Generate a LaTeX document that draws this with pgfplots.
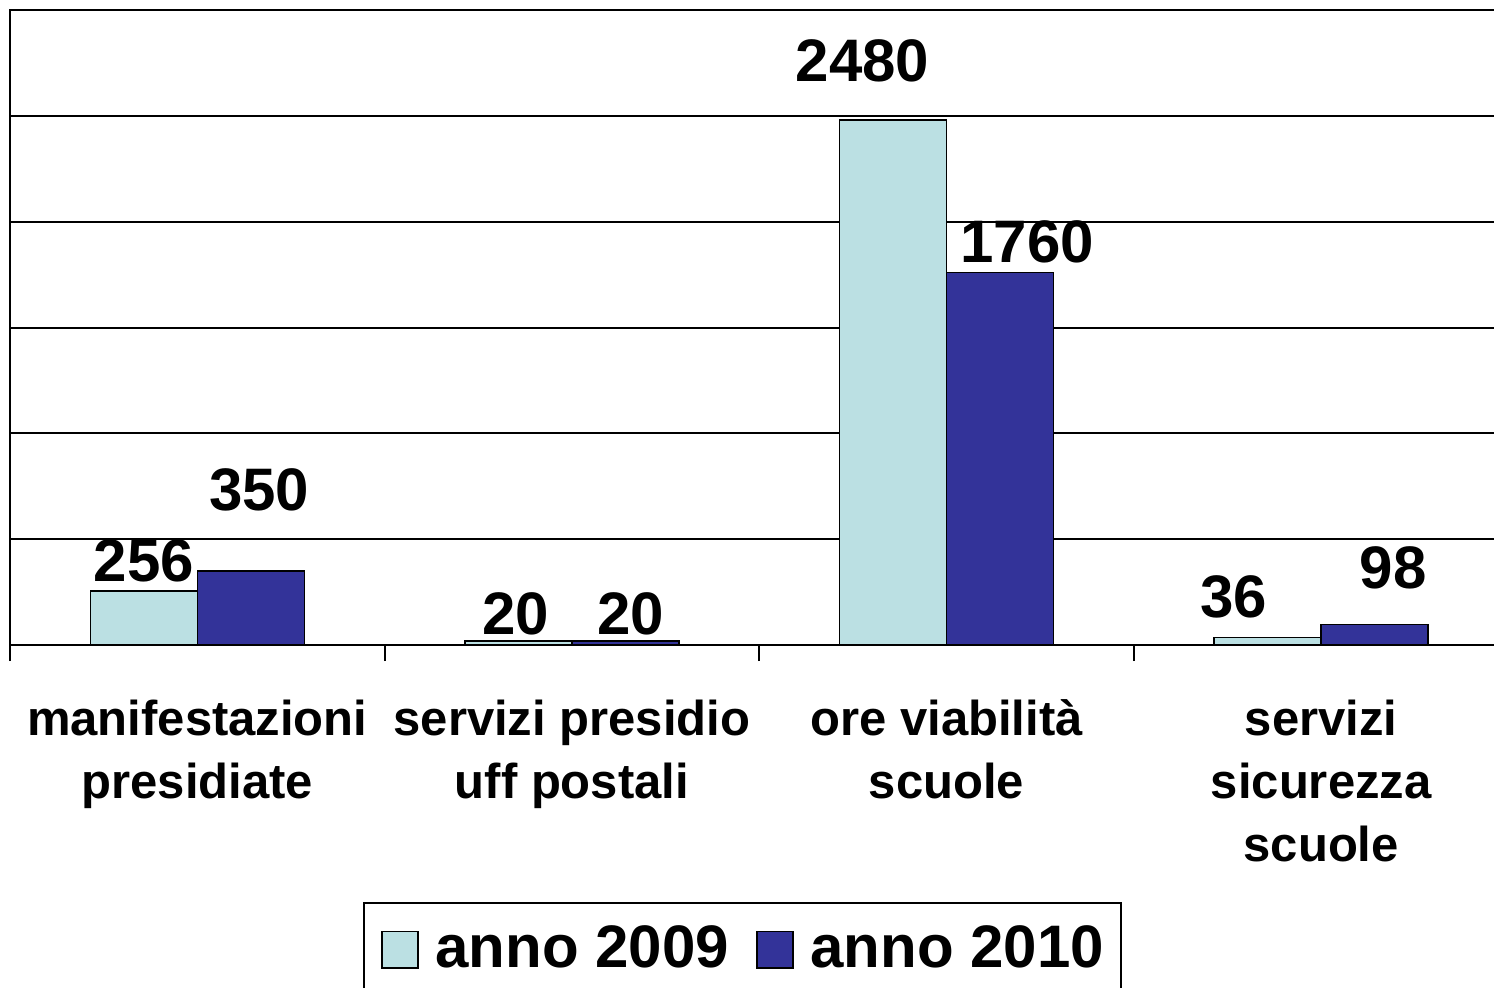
\documentclass[border=0pt]{standalone}
\usepackage{pgfplots}
\usepackage{pgfplotstable}
\usepackage{fontspec}
\setmainfont{Liberation Sans}
\pgfplotsset{compat=1.18}
\definecolor{c09}{RGB}{187,224,227}
\definecolor{c10}{RGB}{51,51,153}

\pgfplotstableread{
x y dx dy
0 256 0 4.5
1 20 -1.25 3
2 2480 -15.25 19.5
3 36 -17 10
}\datanine

\pgfplotstableread{
x y dx dy
0 350 4.25 30
1 20 2.5 3
2 1760 13.5 5
3 98 9.25 18
}\dataten

\begin{document}
\begin{tikzpicture}
\begin{axis}[
  at={(0,0)}, anchor=south west,
  scale only axis,
  width=749.25pt, height=317.5pt,
  xmin=-0.5, xmax=3.5,
  ymin=0, ymax=3000,
  clip=false,
  ybar=0pt, bar width=53.5pt,
  axis line style={black, line width=1pt},
  ytick={500,1000,1500,2000,2500,3000},
  yticklabels={},
  ytick style={draw=none},
  ymajorgrids,
  major grid style={black, line width=1pt},
  xtick={0,1,2,3},
  xticklabels={{manifestazioni\\presidiate},{servizi presidio\\uff postali},{ore viabilità\\scuole},{servizi\\sicurezza\\scuole}},
  minor xtick={-0.5,0.5,1.5,2.5,3.5},
  major tick length=0pt,
  minor tick length=8pt,
  tick align=outside,
  xtick pos=left,
  minor tick style={black, line width=1pt},
  xticklabel style={font=\fontsize{24.5}{31.5}\selectfont\bfseries, align=center, anchor=north, inner sep=0pt, yshift=-27.1pt},
  legend columns=2,
  legend image code/.code={\draw[#1, line width=0.75pt] (0pt,-10.75pt) rectangle (18pt,7.5pt);},
  legend style={at={(0.2356,-0.4047)}, anchor=north west, draw=black, line width=1pt, fill=white,
    inner xsep=8.5pt, inner ysep=11pt, column sep=8.5pt,
    /tikz/every even column/.append style={column sep=13.5pt},
    nodes={inner sep=0pt, text height=21.5pt, text depth=0pt, font=\fontsize{30}{36}\selectfont\bfseries, anchor=center}},
]
\addplot[fill=c09, draw=black, line width=0.75pt,
  visualization depends on={\thisrow{dx}\as\dx},
  visualization depends on={\thisrow{dy}\as\dy},
  nodes near coords, point meta=explicit symbolic,
  nodes near coords style={anchor=base, inner sep=0pt, font=\fontsize{30}{36}\selectfont\bfseries, xshift=\dx pt, yshift=\dy pt}]
  table[x=x, y=y, meta=y]{\datanine};
\addplot[fill=c10, draw=black, line width=0.75pt,
  visualization depends on={\thisrow{dx}\as\dx},
  visualization depends on={\thisrow{dy}\as\dy},
  nodes near coords, point meta=explicit symbolic,
  nodes near coords style={anchor=base, inner sep=0pt, font=\fontsize{30}{36}\selectfont\bfseries, xshift=\dx pt, yshift=\dy pt}]
  table[x=x, y=y, meta=y]{\dataten};
\legend{anno 2009, anno 2010}
\end{axis}
\pgfresetboundingbox
\path[use as bounding box] (-5pt,-171pt) rectangle (742pt,322.5pt);
\end{tikzpicture}
\end{document}
